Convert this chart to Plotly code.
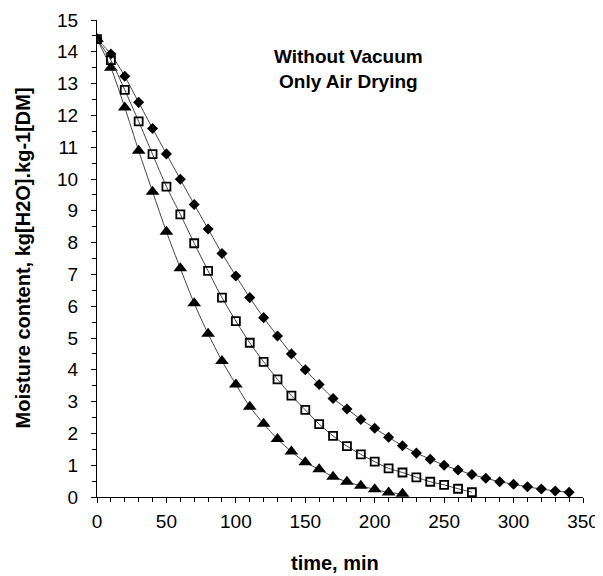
import plotly.graph_objects as go

time_diamond = list(range(0, 341, 10))
mc_diamond = [14.4, 13.93, 13.23, 12.41, 11.59, 10.79, 9.99, 9.2, 8.43, 7.66,
              6.95, 6.27, 5.64, 5.06, 4.5, 4.0, 3.54, 3.1, 2.77, 2.44,
              2.16, 1.88, 1.61, 1.38, 1.19, 1.0, 0.85, 0.71, 0.59, 0.48,
              0.40, 0.32, 0.25, 0.19, 0.15]

time_square = list(range(0, 271, 10))
mc_square = [14.4, 13.74, 12.8, 11.81, 10.78, 9.76, 8.89, 7.98, 7.11, 6.27,
             5.53, 4.85, 4.25, 3.7, 3.19, 2.74, 2.29, 1.92, 1.6, 1.34,
             1.11, 0.9, 0.77, 0.62, 0.48, 0.38, 0.26, 0.15]

time_triangle = list(range(0, 221, 10))
mc_triangle = [14.4, 13.5, 12.25, 10.89, 9.6, 8.34, 7.19, 6.09, 5.13, 4.28,
               3.54, 2.84, 2.3, 1.82, 1.43, 1.09, 0.87, 0.64, 0.48, 0.35,
               0.24, 0.14, 0.1]

x_ticks = [0, 50, 100, 150, 200, 250, 300, 350]
y_ticks = list(range(0, 16))

FONT = "Liberation Sans, Arial, sans-serif"
LINE = dict(color="#444444", width=1, shape="spline", smoothing=0.6)

fig = go.Figure()
fig.add_trace(go.Scatter(
    x=time_diamond, y=mc_diamond, mode="lines+markers", line=LINE,
    marker=dict(symbol="diamond", size=8.5, color="black"), showlegend=False))
fig.add_trace(go.Scatter(
    x=time_triangle, y=mc_triangle, mode="lines+markers", line=LINE,
    marker=dict(symbol="triangle-up", size=12, color="black"), showlegend=False))
fig.add_trace(go.Scatter(
    x=time_square, y=mc_square, mode="lines+markers", line=LINE,
    marker=dict(symbol="square-open", size=8, color="black",
                line=dict(width=1.8, color="black")), showlegend=False))

fig.add_annotation(x=181, y=13.47, xref="x", yref="y",
                   text="<b>Without Vacuum<br>Only Air Drying</b>",
                   showarrow=False, xanchor="center", yanchor="middle",
                   font=dict(family=FONT, size=19, color="black"))

# axis titles
fig.add_annotation(x=0.49, y=0, xref="paper", yref="paper", yshift=-66,
                   text="<b>time, min</b>", showarrow=False,
                   xanchor="center", yanchor="middle",
                   font=dict(family=FONT, size=20, color="black"))
fig.add_annotation(x=0, y=0.5, xref="paper", yref="paper", xshift=-75,
                   text="<b>Moisture content, kg[H2O].kg-1[DM]</b>",
                   textangle=-90, showarrow=False,
                   xanchor="center", yanchor="middle",
                   font=dict(family=FONT, size=20, color="black"))

# page body adds an 8px margin, so the figure is sized to fit the window
fig.update_layout(
    width=595, height=568,
    margin=dict(l=89, r=20, t=12, b=79),
    paper_bgcolor="white", plot_bgcolor="white",
    font=dict(family=FONT, color="black"),
    xaxis=dict(
        range=[0, 350], tickvals=x_ticks, showgrid=False, zeroline=False,
        showline=True, linecolor="black", linewidth=1, automargin=False,
        ticks="outside", ticklen=5, tickcolor="black", tickwidth=1,
        tickfont=dict(size=19, family=FONT),
        ticklabelstandoff=2,
        minor=dict(dtick=10, ticks="outside", ticklen=4, tickcolor="black"),
    ),
    yaxis=dict(
        range=[0, 15], tickvals=y_ticks, showgrid=False, zeroline=False,
        showline=True, linecolor="black", linewidth=1, automargin=False,
        ticks="outside", ticklen=5, tickcolor="black", tickwidth=1,
        tickfont=dict(size=19, family=FONT),
        ticklabelstandoff=9,
        minor=dict(dtick=0.5, ticks="outside", ticklen=4, tickcolor="black"),
    ),
)

fig.write_html("out.html")
